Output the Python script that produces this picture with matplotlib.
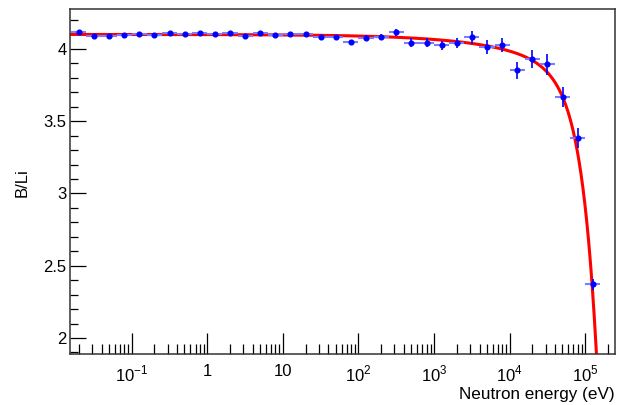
import numpy as np
import matplotlib
matplotlib.use('Agg')
import matplotlib.pyplot as plt
from matplotlib.ticker import FixedLocator, MultipleLocator, NullFormatter

plt.rcParams['font.family'] = ['Liberation Sans', 'DejaVu Sans']
plt.rcParams['mathtext.fontset'] = 'custom'
plt.rcParams['mathtext.rm'] = 'Liberation Sans'
plt.rcParams['font.size'] = 12

# bin centres (eV), 5 bins per decade
energy = [0.02, 0.0317, 0.0502, 0.0796, 0.126, 0.2, 0.317, 0.502, 0.796,
          1.26, 2.0, 3.17, 5.02, 7.96, 12.6, 20.0, 31.7, 50.2, 79.6,
          126, 200, 317, 502, 796, 1260, 2000, 3170, 5020, 7960,
          12600, 20000, 31700, 50200, 79600, 126000]
ratio = [4.115, 4.092, 4.090, 4.099, 4.102, 4.097, 4.113, 4.103, 4.110,
         4.106, 4.110, 4.087, 4.111, 4.095, 4.103, 4.101, 4.083, 4.083, 4.048,
         4.078, 4.081, 4.115, 4.044, 4.044, 4.025, 4.039, 4.081, 4.011, 4.025,
         3.851, 3.928, 3.893, 3.665, 3.384, 2.370]
ratio_err = [0.005, 0.005, 0.005, 0.005, 0.005, 0.005, 0.005, 0.005, 0.005,
             0.005, 0.005, 0.005, 0.006, 0.006, 0.006, 0.007, 0.008, 0.009, 0.010,
             0.015, 0.020, 0.025, 0.028, 0.030, 0.032, 0.035, 0.046, 0.049, 0.049,
             0.056, 0.061, 0.073, 0.068, 0.070, 0.040]
bin_width_dex = 0.2

# fit: p0 - p1*sqrt(E) - p2*(E/p3)^p4
fit_pars = [4.10, 0.0011, 1.80, 1.41e5, 2.2]

energy = np.array(energy)
ratio = np.array(ratio)
ratio_err = np.array(ratio_err)
half = 10 ** (bin_width_dex / 2)
xerr = [energy - energy / half, energy * half - energy]


def fit_func(e, p):
    return p[0] - p[1] * np.sqrt(e) - p[2] * (e / p[3]) ** p[4]


fig = plt.figure(figsize=(6.25, 4.05), dpi=100)
ax = fig.add_axes([0.112, 0.1259, 0.872, 0.8519])

ax.set_xscale('log')
ax.set_xlim(0.0153, 2.48e5)
ax.set_ylim(1.889, 4.276)

e_fit = np.logspace(np.log10(0.0153), np.log10(2.0e5), 2000)
ax.plot(e_fit, fit_func(e_fit, fit_pars), color='red', lw=2.2, zorder=2)

ax.errorbar(energy, ratio, xerr=xerr, fmt='none', ecolor='#7b7bff', elinewidth=1.5,
            capsize=0, zorder=3)
ax.errorbar(energy, ratio, yerr=ratio_err, fmt='o', color='blue', ms=3.4,
            ecolor='blue', elinewidth=1.2, capsize=0, zorder=4)

# ticks
majors = [0.1, 1, 10, 100, 1e3, 1e4, 1e5]
labels = [r'$10^{-1}$', '1', '10', r'$10^{2}$', r'$10^{3}$', r'$10^{4}$', r'$10^{5}$']
ax.xaxis.set_major_locator(FixedLocator(majors))
ax.set_xticklabels(labels)
minors = [m * 10.0 ** d for d in range(-2, 6) for m in range(2, 10)]
ax.xaxis.set_minor_locator(FixedLocator(minors))
ax.xaxis.set_minor_formatter(NullFormatter())

ax.yaxis.set_minor_locator(MultipleLocator(0.1))
ax.set_yticks([2, 2.5, 3, 3.5, 4])
ax.set_yticklabels(['2', '2.5', '3', '3.5', '4'])

ax.tick_params(axis='x', which='major', direction='in', length=15, width=0.9,
               pad=7, labelsize=12, top=False)
ax.tick_params(axis='x', which='minor', direction='in', length=7, width=0.9, top=False)
ax.tick_params(axis='y', which='major', direction='in', length=11.5, width=0.9,
               pad=2.5, labelsize=12, right=False)
ax.tick_params(axis='y', which='minor', direction='in', length=6, width=0.9, right=False)

for s in ax.spines.values():
    s.set_linewidth(1.1)
    s.set_color('#333333')

fig.text(615 / 625, 1 - 395 / 405, 'Neutron energy (eV)', ha='right', va='center',
         fontsize=12.3)
fig.text(22 / 625, 1 - 183 / 405, 'B/Li', ha='center', va='center', rotation=90,
         fontsize=12)

fig.savefig('out.png', dpi=100)
